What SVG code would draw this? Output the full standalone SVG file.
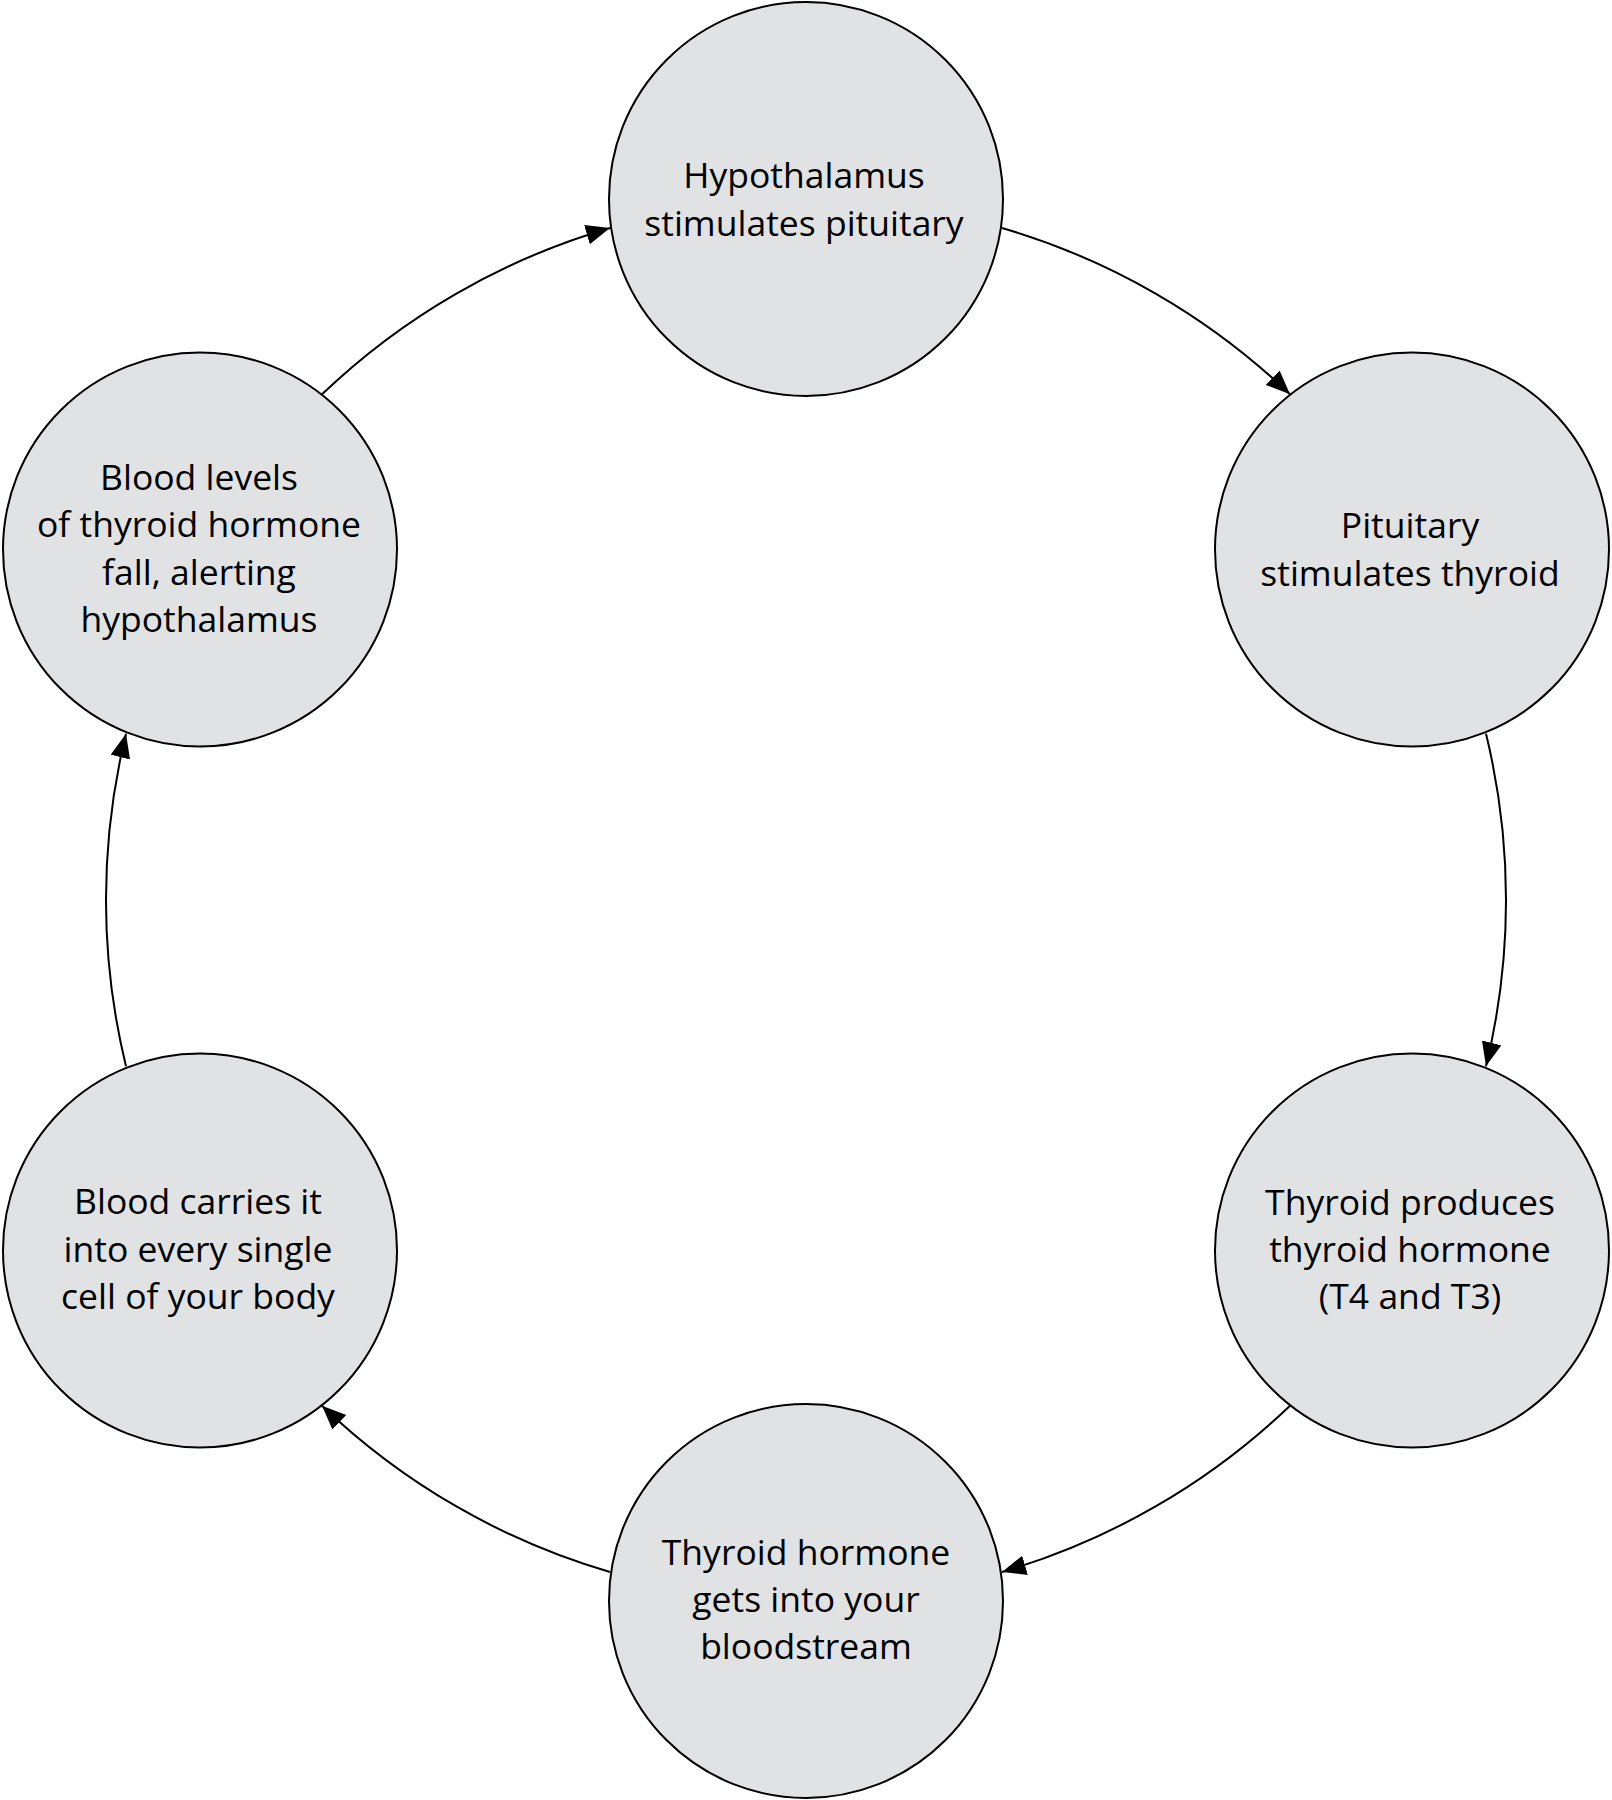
<svg xmlns="http://www.w3.org/2000/svg" width="1612" height="1800" viewBox="0 0 1612 1800">
<style>
.node circle{fill:#e1e2e4;stroke:#000;stroke-width:2}
.node text{font-family:"Open Sans","Noto Sans",sans-serif;font-size:35.5px;fill:#000;text-anchor:middle}
.conn path{fill:none;stroke:#000;stroke-width:2;marker-end:url(#arr)}
</style>
<defs>
<marker id="arr" markerUnits="userSpaceOnUse" markerWidth="26" markerHeight="22" refX="24" refY="10" orient="auto">
<path d="M0,0 L24,10 L0,20 z" fill="#000"/>
</marker>
</defs>
<rect width="1612" height="1800" fill="#fff"/>
<g id="connectors" class="conn">
<path d="M1002,228 A700,700 0 0 1 1290,394.3"/>
<path d="M1486,733.8 A700,700 0 0 1 1486,1066.2"/>
<path d="M1290,1405.7 A700,700 0 0 1 1002,1572"/>
<path d="M610,1572 A700,700 0 0 1 322,1405.7"/>
<path d="M126,1066.2 A700,700 0 0 1 126,733.8"/>
<path d="M322,394.3 A700,700 0 0 1 610,228"/>
</g>
<g id="hypothalamus" class="node">
<circle cx="806" cy="199" r="197"/>
<text x="804" y="188">Hypothalamus</text>
<text x="804" y="236">stimulates pituitary</text>
</g>
<g id="pituitary" class="node">
<circle cx="1412" cy="549.5" r="197"/>
<text x="1410" y="538">Pituitary</text>
<text x="1410" y="586">stimulates thyroid</text>
</g>
<g id="thyroid" class="node">
<circle cx="1412" cy="1250.5" r="197"/>
<text x="1410" y="1215">Thyroid produces</text>
<text x="1410" y="1262">thyroid hormone</text>
<text x="1410" y="1309">(T4 and T3)</text>
</g>
<g id="bloodstream" class="node">
<circle cx="806" cy="1601" r="197"/>
<text x="806" y="1565">Thyroid hormone</text>
<text x="806" y="1612">gets into your</text>
<text x="806" y="1659">bloodstream</text>
</g>
<g id="cells" class="node">
<circle cx="200" cy="1250.5" r="197"/>
<text x="198" y="1214">Blood carries it</text>
<text x="198" y="1262">into every single</text>
<text x="198" y="1309">cell of your body</text>
</g>
<g id="levels" class="node">
<circle cx="200" cy="549.5" r="197"/>
<text x="199" y="490">Blood levels</text>
<text x="199" y="537">of thyroid hormone</text>
<text x="199" y="585">fall, alerting</text>
<text x="199" y="632">hypothalamus</text>
</g>
</svg>
